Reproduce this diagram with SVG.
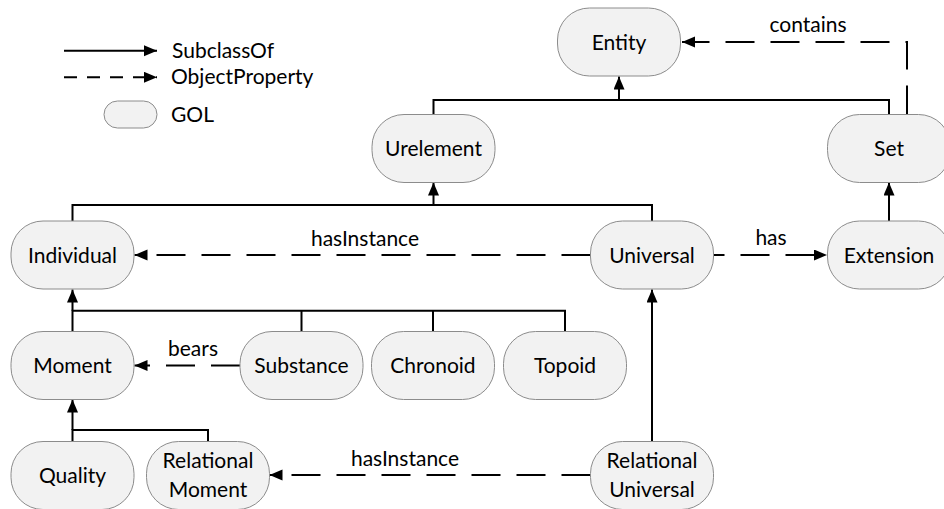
<svg xmlns="http://www.w3.org/2000/svg" width="944" height="509" viewBox="0 0 944 509">
  <style>
    .node rect { fill: #f2f2f2; stroke: #8c8c8c; stroke-width: 1; }
    text { font-family: Lato, "Open Sans", "Liberation Sans", sans-serif; font-size: 21px; fill: #000; }
    .lbl { text-anchor: middle; }
    .solid { fill: none; stroke: #000; stroke-width: 2; }
    .dash { fill: none; stroke: #000; stroke-width: 2; stroke-dasharray: 29 16; }
    .legdash { fill: none; stroke: #000; stroke-width: 2; stroke-dasharray: 13 10; }
  </style>
  <defs>
    <marker id="arrow" markerUnits="userSpaceOnUse" markerWidth="14" markerHeight="12" refX="13" refY="5.5" orient="auto">
      <path d="M0,0 L13,5.5 L0,11 z" fill="#000"/>
    </marker>
  </defs>

  <!-- legend -->
  <g id="legend">
    <path class="solid" d="M64,50.7 H157" marker-end="url(#arrow)"/>
    <text x="172" y="58">SubclassOf</text>
    <path class="legdash" d="M64,77.3 H157" marker-end="url(#arrow)"/>
    <text x="171" y="84">ObjectProperty</text>
    <rect x="104" y="101" width="53" height="27" rx="13.5" fill="#f2f2f2" stroke="#8c8c8c" stroke-width="1"/>
    <text x="171" y="122">GOL</text>
  </g>

  <!-- connectors -->
  <g id="connectors">
    <!-- SubclassOf -->
    <path class="solid" d="M433.5,114.5 V100 H889 V114.5"/>
    <path class="solid" d="M619,100 V76.5" marker-end="url(#arrow)"/>
    <path class="solid" d="M72.5,221 V205 H652 V221"/>
    <path class="solid" d="M433.5,205 V182.5" marker-end="url(#arrow)"/>
    <path class="solid" d="M889,221 V182.5" marker-end="url(#arrow)"/>
    <path class="solid" d="M72.5,331.5 V310.7 H565 V331.5"/>
    <path class="solid" d="M301.5,310.7 V331.5"/>
    <path class="solid" d="M433,310.7 V331.5"/>
    <path class="solid" d="M72.5,310.7 V289.5" marker-end="url(#arrow)"/>
    <path class="solid" d="M72.5,441.5 V430 H208 V441.5"/>
    <path class="solid" d="M72.5,430 V399.5" marker-end="url(#arrow)"/>
    <path class="solid" d="M652,441.5 V289.5" marker-end="url(#arrow)"/>

    <!-- ObjectProperty -->
    <path class="dash" d="M907,114.5 V42 H682" marker-end="url(#arrow)"/>
    <text class="lbl" x="808" y="32">contains</text>
    <path class="dash" d="M590.5,255 H134.5" marker-end="url(#arrow)"/>
    <text class="lbl" x="365" y="246">hasInstance</text>
    <path class="dash" d="M713.5,255 H827" stroke-dashoffset="18" marker-end="url(#arrow)"/>
    <text class="lbl" x="771" y="245">has</text>
    <path class="dash" d="M240,365.5 H134.5" marker-end="url(#arrow)"/>
    <text class="lbl" x="193" y="356">bears</text>
    <path class="dash" d="M590.5,475 H269.5" marker-end="url(#arrow)"/>
    <text class="lbl" x="405" y="466">hasInstance</text>
  </g>

  <!-- nodes -->
  <g id="entity" class="node">
    <rect x="557.5" y="8" width="123" height="68" rx="32"/>
    <text class="lbl" x="619" y="49.5">Entity</text>
  </g>
  <g id="urelement" class="node">
    <rect x="372" y="114.5" width="123" height="68" rx="32"/>
    <text class="lbl" x="433.5" y="156">Urelement</text>
  </g>
  <g id="set" class="node">
    <rect x="827.5" y="114.5" width="123" height="68" rx="32"/>
    <text class="lbl" x="889" y="156">Set</text>
  </g>
  <g id="individual" class="node">
    <rect x="11" y="221" width="123" height="68" rx="32"/>
    <text class="lbl" x="72.5" y="262.5">Individual</text>
  </g>
  <g id="universal" class="node">
    <rect x="590.5" y="221" width="123" height="68" rx="32"/>
    <text class="lbl" x="652" y="262.5">Universal</text>
  </g>
  <g id="extension" class="node">
    <rect x="827.5" y="221" width="123" height="68" rx="32"/>
    <text class="lbl" x="889" y="262.5">Extension</text>
  </g>
  <g id="moment" class="node">
    <rect x="11" y="331.5" width="123" height="68" rx="32"/>
    <text class="lbl" x="72.5" y="373">Moment</text>
  </g>
  <g id="substance" class="node">
    <rect x="240" y="331.5" width="123" height="68" rx="32"/>
    <text class="lbl" x="301.5" y="373">Substance</text>
  </g>
  <g id="chronoid" class="node">
    <rect x="371.5" y="331.5" width="123" height="68" rx="32"/>
    <text class="lbl" x="433" y="373">Chronoid</text>
  </g>
  <g id="topoid" class="node">
    <rect x="503.5" y="331.5" width="123" height="68" rx="32"/>
    <text class="lbl" x="565" y="373">Topoid</text>
  </g>
  <g id="quality" class="node">
    <rect x="11" y="441.5" width="123" height="68" rx="32"/>
    <text class="lbl" x="72.5" y="483">Quality</text>
  </g>
  <g id="relational-moment" class="node">
    <rect x="146.5" y="441.5" width="123" height="68" rx="32"/>
    <text class="lbl" x="208" y="467.5">Relational</text>
    <text class="lbl" x="208" y="496.5">Moment</text>
  </g>
  <g id="relational-universal" class="node">
    <rect x="590.5" y="441.5" width="123" height="68" rx="32"/>
    <text class="lbl" x="652" y="467.5">Relational</text>
    <text class="lbl" x="652" y="496.5">Universal</text>
  </g>
</svg>
